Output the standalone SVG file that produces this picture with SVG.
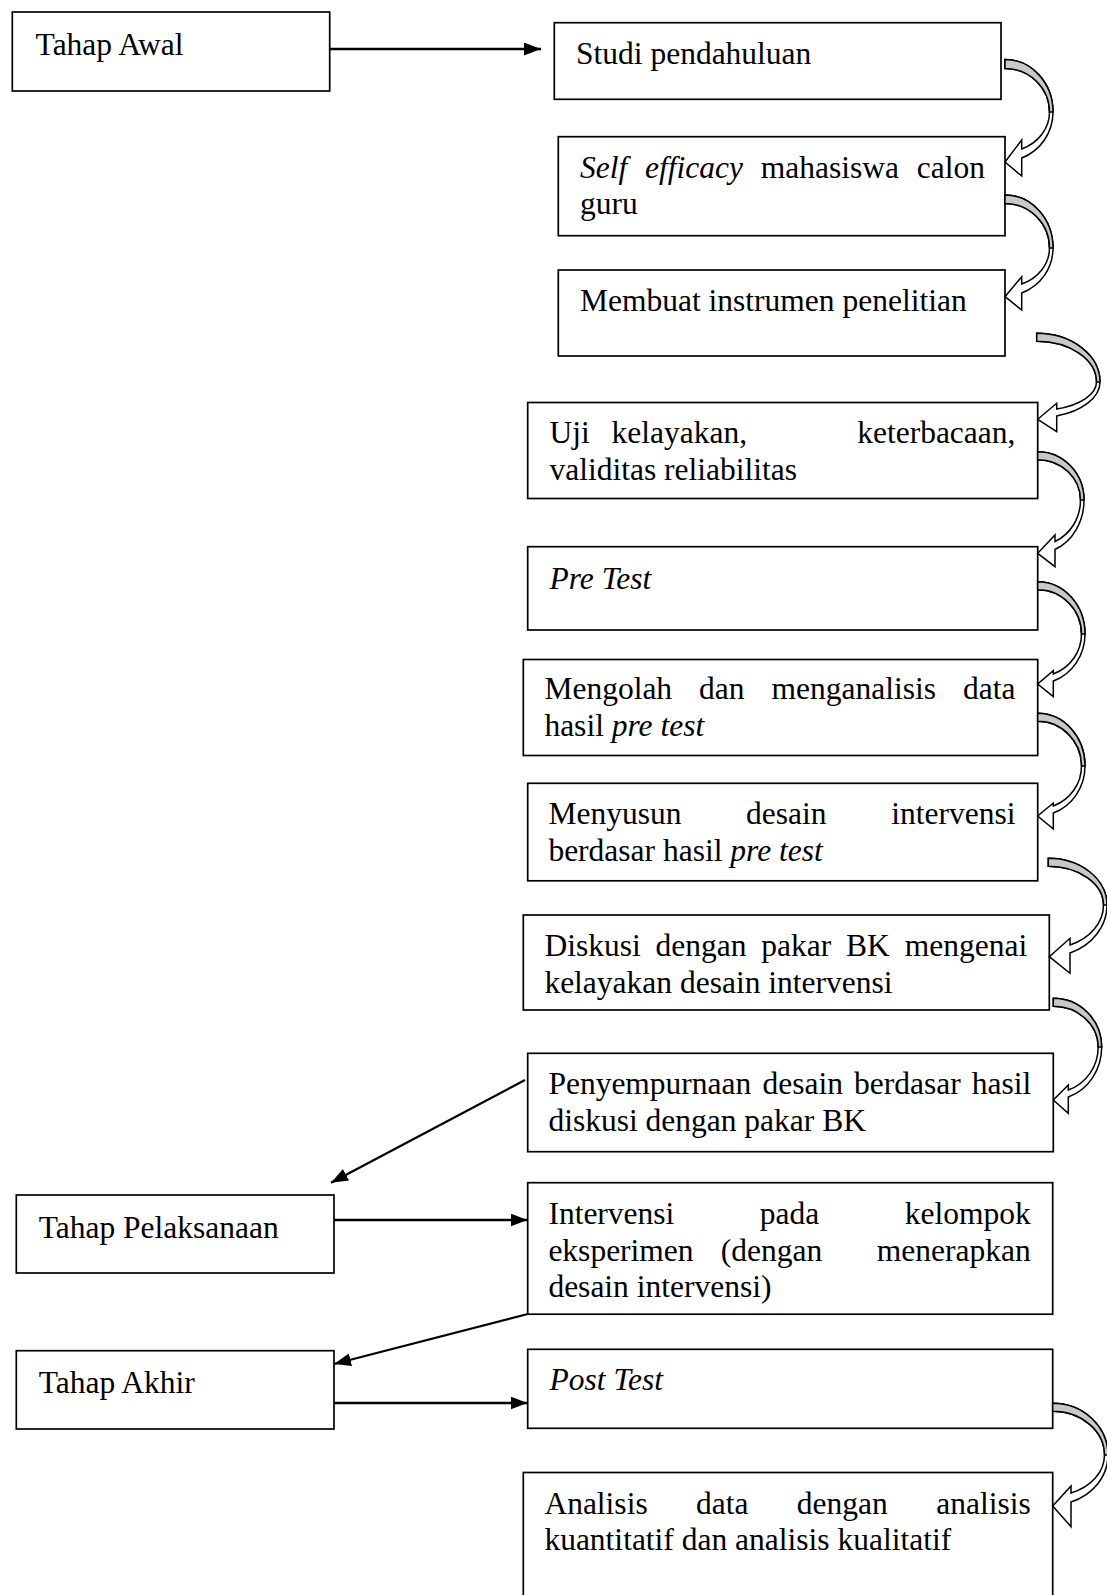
<svg xmlns="http://www.w3.org/2000/svg" width="1107" height="1595" viewBox="0 0 1107 1595">
<style>
.box{fill:#fff;stroke:#000;stroke-width:1.7}
.t{font-family:"Liberation Serif","Times New Roman",serif;font-size:31.5px;fill:#000}
.i{font-style:italic}
.ln{stroke:#000;stroke-width:2.3;fill:none;marker-end:url(#ah)}
.band{fill:#fff;stroke:#000;stroke-width:1.5;stroke-linejoin:miter}
.back{fill:#c8c8c8;stroke:#000;stroke-width:1.5}
</style>
<defs>
<marker id="ah" viewBox="0 0 17 13" refX="17" refY="6.5" markerWidth="17" markerHeight="13" markerUnits="userSpaceOnUse" orient="auto">
<path d="M0,0 L17,6.5 L0,13 z" fill="#000"/>
</marker>
</defs>
<rect width="1107" height="1595" fill="#fff"/>

<g id="tahap-awal"><rect class="box" x="12.3" y="12" width="317.4" height="79"/><text class="t" x="35.6" y="55">Tahap Awal</text></g>
<g id="studi"><rect class="box" x="554.3" y="22.7" width="446.7" height="76.6"/><text class="t" x="576" y="63.5">Studi pendahuluan</text></g>
<g id="self-efficacy"><rect class="box" x="558.3" y="136.7" width="446.7" height="99"/>
<text class="t" y="177.5"><tspan class="i" x="580">Self</tspan><tspan class="i" x="645">efficacy</tspan><tspan x="760.8">mahasiswa</tspan><tspan x="916.8">calon</tspan></text>
<text class="t" x="580" y="214.3">guru</text></g>
<g id="instrumen"><rect class="box" x="558.3" y="270" width="446.7" height="86"/><text class="t" x="580" y="311">Membuat instrumen penelitian</text></g>
<g id="uji"><rect class="box" x="527.7" y="402.5" width="510" height="96"/>
<text class="t" y="443"><tspan x="549.5">Uji</tspan><tspan x="611.5">kelayakan,</tspan><tspan x="857.2">keterbacaan,</tspan></text>
<text class="t" x="549.5" y="479.8">validitas reliabilitas</text></g>
<g id="pretest"><rect class="box" x="527.7" y="546.7" width="510" height="83.3"/><text class="t i" x="549.5" y="589">Pre Test</text></g>
<g id="mengolah"><rect class="box" x="523.3" y="659.5" width="514.4" height="96"/>
<text class="t" y="699"><tspan x="544.4">Mengolah</tspan><tspan x="699.1">dan</tspan><tspan x="771.6">menganalisis</tspan><tspan x="963.1">data</tspan></text>
<text class="t" x="544.4" y="735.8">hasil <tspan class="i">pre test</tspan></text></g>
<g id="menyusun"><rect class="box" x="527.7" y="783.3" width="510" height="97.5"/>
<text class="t" y="824.3"><tspan x="548.4">Menyusun</tspan><tspan x="746.1">desain</tspan><tspan x="891.3">intervensi</tspan></text>
<text class="t" x="548.4" y="861">berdasar hasil <tspan class="i">pre test</tspan></text></g>
<g id="diskusi"><rect class="box" x="523.3" y="915" width="526" height="95"/>
<text class="t" y="956"><tspan x="544.4">Diskusi</tspan><tspan x="655.5">dengan</tspan><tspan x="761.3">pakar</tspan><tspan x="846.1">BK</tspan><tspan x="904.7">mengenai</tspan></text>
<text class="t" x="544.4" y="992.8">kelayakan desain intervensi</text></g>
<g id="penyempurnaan"><rect class="box" x="527.7" y="1053.3" width="525.6" height="98.4"/>
<text class="t" y="1094.3"><tspan x="548.4">Penyempurnaan</tspan><tspan x="762.5">desain</tspan><tspan x="854.1">berdasar</tspan><tspan x="971.8">hasil</tspan></text>
<text class="t" x="548.4" y="1131">diskusi dengan pakar BK</text></g>
<g id="tahap-pelaksanaan"><rect class="box" x="16.3" y="1195" width="317.7" height="78"/><text class="t" x="38.7" y="1238">Tahap Pelaksanaan</text></g>
<g id="intervensi"><rect class="box" x="527.7" y="1182.7" width="525" height="131.5"/>
<text class="t" y="1223.7"><tspan x="548.4">Intervensi</tspan><tspan x="759.8">pada</tspan><tspan x="904.7">kelompok</tspan></text>
<text class="t" y="1260.5"><tspan x="548.4">eksperimen</tspan><tspan x="720.8">(dengan</tspan><tspan x="876.8">menerapkan</tspan></text>
<text class="t" x="548.4" y="1297.3">desain intervensi)</text></g>
<g id="tahap-akhir"><rect class="box" x="16.3" y="1350.7" width="317.7" height="78.3"/><text class="t" x="38.7" y="1393">Tahap Akhir</text></g>
<g id="posttest"><rect class="box" x="527.7" y="1349.3" width="525" height="79"/><text class="t i" x="549.5" y="1390.3">Post Test</text></g>
<g id="analisis"><rect class="box" x="523.3" y="1472.5" width="529.4" height="140"/>
<text class="t" y="1513.5"><tspan x="544.4">Analisis</tspan><tspan x="696">data</tspan><tspan x="796.8">dengan</tspan><tspan x="936.2">analisis</tspan></text>
<text class="t" x="544.4" y="1550.3">kuantitatif dan analisis kualitatif</text></g>

<g id="connectors">
<line class="ln" x1="330" y1="49" x2="541" y2="49"/>
<line class="ln" x1="525" y1="1080" x2="331" y2="1182.7"/>
<line class="ln" x1="334" y1="1220" x2="527.5" y2="1220"/>
<line class="ln" x1="527.7" y1="1314" x2="334" y2="1364"/>
<line class="ln" x1="334" y1="1403" x2="527.5" y2="1403"/>

<path class="band" d="M1005,59.5 A48,52.5 0 0 1 1053,112 A48,49.07 0 0 1 1021.7,158 L1021.7,176 L1005,162 L1021.7,140 L1021.7,149 A44.5,39.9 0 0 0 1049.5,112 A44.5,43.5 0 0 0 1005,68.5 Z"/>
<path class="back" d="M1005,59.5 A48,52.5 0 0 1 1053,112 L1049.5,112 A44.5,43.5 0 0 0 1005,68.5 Z"/>

<path class="band" d="M1005,195 A48,53 0 0 1 1053,248 A48,48 0 0 1 1021.7,293 L1021.7,310 L1005,296.7 L1021.7,276.7 L1021.7,284 A44.5,38.8 0 0 0 1049.5,248 A44.5,44.5 0 0 0 1005,203.5 Z"/>
<path class="back" d="M1005,195 A48,53 0 0 1 1053,248 L1049.5,248 A44.5,44.5 0 0 0 1005,203.5 Z"/>

<path class="band" d="M1036.7,333.3 A63.3,48.7 0 0 1 1100,382 A63.3,35.83 0 0 1 1056.7,416 L1056.7,431.7 L1037.7,419.3 L1056.7,403.3 L1056.7,409 A59.8,28.65 0 0 0 1096.5,382 A59.8,40.7 0 0 0 1036.7,341.3 Z"/>
<path class="back" d="M1036.7,333.3 A63.3,48.7 0 0 1 1100,382 L1096.5,382 A59.8,40.7 0 0 0 1036.7,341.3 Z"/>

<path class="band" d="M1037.7,451.7 A46.3,48.3 0 0 1 1084,500 A46.3,53.36 0 0 1 1055,549.5 L1055,566.7 L1037.7,553.3 L1055,535 L1055,541.5 A42.8,45.37 0 0 0 1080.5,500 A42.8,40.3 0 0 0 1037.7,459.7 Z"/>
<path class="back" d="M1037.7,451.7 A46.3,48.3 0 0 1 1084,500 L1080.5,500 A42.8,40.3 0 0 0 1037.7,459.7 Z"/>

<path class="band" d="M1037.7,581.7 A47.3,52.3 0 0 1 1085,634 A47.3,49.79 0 0 1 1053.3,681 L1053.3,696.7 L1037.7,684 L1053.3,670.7 L1053.3,674 A43.8,42.81 0 0 0 1081.5,634 A43.8,44.3 0 0 0 1037.7,589.7 Z"/>
<path class="back" d="M1037.7,581.7 A47.3,52.3 0 0 1 1085,634 L1081.5,634 A43.8,44.3 0 0 0 1037.7,589.7 Z"/>

<path class="band" d="M1037.7,713.3 A47.3,52.7 0 0 1 1085,766 A47.3,49.79 0 0 1 1053.3,813 L1053.3,829 L1037.7,816 L1053.3,803 L1053.3,806 A43.8,42.81 0 0 0 1081.5,766 A43.8,44.7 0 0 0 1037.7,721.3 Z"/>
<path class="back" d="M1037.7,713.3 A47.3,52.7 0 0 1 1085,766 L1081.5,766 A43.8,44.7 0 0 0 1037.7,721.3 Z"/>

<path class="band" d="M1048.3,858.3 A58.7,46.7 0 0 1 1107,905 A58.7,51.66 0 0 1 1070,953 L1070,973.3 L1049.3,956.7 L1070,938.3 L1070,945 A55.2,43.5 0 0 0 1103.5,905 A55.2,38.7 0 0 0 1048.3,866.3 Z"/>
<path class="back" d="M1048.3,858.3 A58.7,46.7 0 0 1 1107,905 L1103.5,905 A55.2,38.7 0 0 0 1048.3,866.3 Z"/>

<path class="band" d="M1053.3,998.3 A48.4,48.7 0 0 1 1101.7,1047 A48.4,52.59 0 0 1 1068.3,1097 L1068.3,1113.3 L1053.3,1100 L1068.3,1085 L1068.3,1090 A44.9,45.62 0 0 0 1098.2,1047 A44.9,40.7 0 0 0 1053.3,1006.3 Z"/>
<path class="back" d="M1053.3,998.3 A48.4,48.7 0 0 1 1101.7,1047 L1098.2,1047 A44.9,40.7 0 0 0 1053.3,1006.3 Z"/>

<path class="band" d="M1052.7,1403.3 A55.3,51.7 0 0 1 1108,1455 A55.3,49.8 0 0 1 1071,1502 L1071,1526.7 L1052.7,1506 L1071,1486 L1071,1493 A51.8,40.62 0 0 0 1104.5,1455 A51.8,43.7 0 0 0 1052.7,1411.3 Z"/>
<path class="back" d="M1052.7,1403.3 A55.3,51.7 0 0 1 1108,1455 L1104.5,1455 A51.8,43.7 0 0 0 1052.7,1411.3 Z"/>
</g>
</svg>
